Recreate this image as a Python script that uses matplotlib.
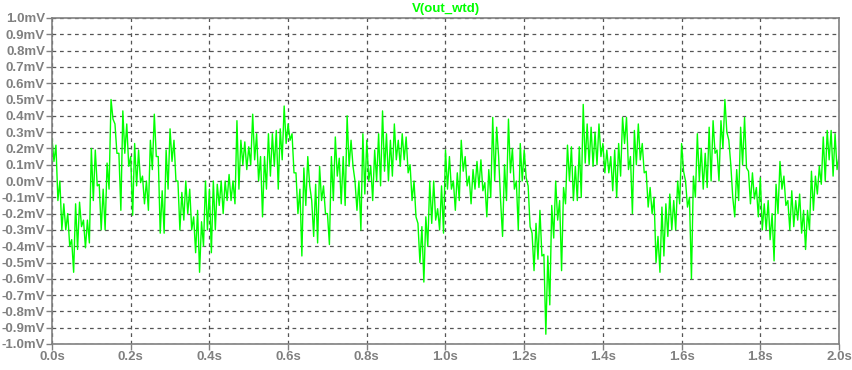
import matplotlib
matplotlib.use("Agg")
import matplotlib.pyplot as plt
import numpy as np

# upper / lower swing of V(out_wtd) in each 10 ms slot (mV)
slot_start = [round(i * 0.01, 2) for i in range(201)]

hi_mv = [
    0.26, 0.22, 0.00, -0.14, -0.20, -0.36, -0.14, -0.13, -0.24, -0.24,
    0.20, 0.19, -0.02, -0.05, 0.11, 0.50, 0.35, 0.17, 0.43, 0.35,
    0.15, 0.23, 0.19, 0.03, 0.00, 0.25, 0.41, 0.15, -0.06, 0.19,
    0.32, 0.25, 0.00, -0.07, 0.00, -0.05, -0.22, -0.18, -0.25, 0.00,
    -0.05, 0.00, -0.02, 0.00, 0.00, 0.04, 0.00, 0.37, 0.25, 0.24,
    0.21, 0.41, 0.29, 0.15, 0.15, 0.29, 0.29, 0.31, 0.32, 0.46,
    0.35, 0.29, 0.05, -0.05, 0.08, 0.15, -0.12, -0.02, 0.09, -0.03,
    -0.20, 0.15, 0.27, 0.14, 0.15, 0.40, 0.25, 0.00, 0.00, 0.29,
    0.25, 0.09, 0.19, 0.29, 0.43, 0.29, 0.25, 0.35, 0.25, 0.29,
    0.27, 0.10, 0.00, -0.26, -0.28, -0.22, 0.00, 0.00, -0.17, -0.03,
    0.19, 0.15, 0.00, 0.05, 0.25, 0.15, 0.03, 0.07, 0.12, 0.13,
    -0.01, 0.07, 0.39, 0.33, -0.12, 0.10, 0.38, 0.20, 0.00, 0.23,
    0.19, -0.03, -0.32, -0.26, -0.18, -0.45, -0.46, -0.15, 0.00, -0.12,
    -0.04, 0.22, 0.21, 0.09, 0.21, 0.47, 0.35, 0.33, 0.30, 0.35,
    0.23, 0.19, 0.15, 0.19, 0.23, 0.39, 0.39, 0.15, 0.31, 0.35,
    0.23, 0.06, -0.04, -0.10, -0.34, -0.16, -0.14, -0.08, -0.12, 0.00,
    0.23, 0.00, -0.10, 0.03, 0.29, 0.20, 0.17, 0.33, 0.37, 0.19,
    0.37, 0.50, 0.25, -0.10, 0.07, 0.33, 0.39, 0.06, 0.05, -0.04,
    0.02, -0.14, -0.12, -0.20, -0.02, 0.12, 0.03, -0.12, -0.06, -0.12,
    -0.08, -0.18, -0.18, 0.06, 0.03, 0.09, 0.27, 0.31, 0.31, 0.29,
    0.15,
]

lo_mv = [
    0.12, -0.12, -0.30, -0.30, -0.40, -0.56, -0.42, -0.28, -0.41, -0.38,
    -0.12, -0.03, -0.30, -0.30, -0.05, 0.38, 0.17, -0.18, 0.17, 0.09,
    -0.21, -0.03, -0.01, -0.14, -0.18, 0.07, 0.15, -0.32, -0.32, -0.05,
    0.12, 0.00, -0.30, -0.24, -0.20, -0.30, -0.44, -0.56, -0.40, -0.30,
    -0.44, -0.30, -0.15, -0.20, -0.12, -0.12, -0.14, -0.05, 0.10, 0.07,
    0.10, 0.13, 0.00, -0.22, -0.05, 0.03, 0.09, -0.05, 0.13, 0.23,
    0.25, 0.05, -0.20, -0.46, -0.15, -0.03, -0.34, -0.38, -0.12, -0.20,
    -0.39, -0.12, 0.03, -0.14, -0.15, 0.09, 0.09, -0.18, -0.30, -0.08,
    0.00, -0.12, 0.00, -0.03, 0.06, 0.00, 0.03, 0.13, 0.09, 0.13,
    0.05, -0.12, -0.22, -0.50, -0.62, -0.40, -0.26, -0.24, -0.30, -0.32,
    -0.05, -0.05, -0.18, -0.12, 0.06, -0.03, -0.14, -0.05, -0.04, -0.06,
    -0.22, -0.10, 0.00, 0.15, -0.34, -0.12, 0.05, -0.05, -0.30, 0.00,
    0.02, -0.28, -0.55, -0.48, -0.46, -0.94, -0.76, -0.35, -0.24, -0.55,
    -0.14, 0.00, -0.12, -0.12, -0.10, 0.11, 0.10, 0.09, 0.10, 0.15,
    0.05, 0.05, -0.06, -0.10, 0.03, 0.23, 0.07, -0.20, 0.10, 0.13,
    0.05, -0.16, -0.20, -0.50, -0.56, -0.46, -0.34, -0.30, -0.30, -0.14,
    0.06, -0.16, -0.60, -0.10, 0.00, -0.05, -0.04, 0.00, 0.17, 0.00,
    0.20, 0.30, 0.10, -0.22, -0.12, 0.10, 0.08, -0.14, -0.11, -0.22,
    -0.30, -0.30, -0.36, -0.49, -0.20, -0.05, -0.15, -0.30, -0.28, -0.24,
    -0.32, -0.42, -0.30, -0.18, -0.08, -0.02, 0.00, 0.13, 0.03, 0.07,
    -0.05,
]

x_ticks = [0.0, 0.2, 0.4, 0.6, 0.8, 1.0, 1.2, 1.4, 1.6, 1.8, 2.0]
y_ticks = [round(-1.0 + 0.1 * i, 1) for i in range(21)]

# each slot: top of the swing, then the bottom half a slot later
t = np.array(slot_start)
t_trace = np.column_stack([t, t + 0.005]).ravel()[:-1]
v_trace = np.column_stack([hi_mv, lo_mv]).ravel()[:-1]

W, H = 853, 370
fig = plt.figure(figsize=(W / 100, H / 100), dpi=100)
fig.patch.set_facecolor("white")
ax = fig.add_axes([52 / W, 1 - 344 / H, (839 - 52) / W, (344 - 18) / H])

ax.plot(t_trace, v_trace, color="#00ff00", lw=1.0)

ax.set_xlim(0, 2.0)
ax.set_ylim(-1.0, 1.0)

gray = "#808080"
font = dict(family=["Liberation Sans", "DejaVu Sans"], weight="bold", size=9.5)

ax.set_xticks(x_ticks)
ax.set_xticklabels([f"{x:.1f}s" for x in x_ticks], color=gray, **font)
ax.set_yticks(y_ticks)
ax.set_yticklabels([f"{y:.1f}mV" for y in y_ticks], color=gray, **font)
ax.tick_params(direction="out", length=4, width=1, color=gray, pad=1)

ax.grid(True, color="#555555", linestyle=(0, (3, 3)), linewidth=0.9)
ax.set_axisbelow(True)
for s in ax.spines.values():
    s.set_color(gray)
    s.set_linewidth(1.2)

fig.text(445.5 / W, 1 - 9 / H, "V(out_wtd)", color="#00ff00",
         ha="center", va="center", **font)

fig.savefig("out.png", dpi=100, facecolor="white")
